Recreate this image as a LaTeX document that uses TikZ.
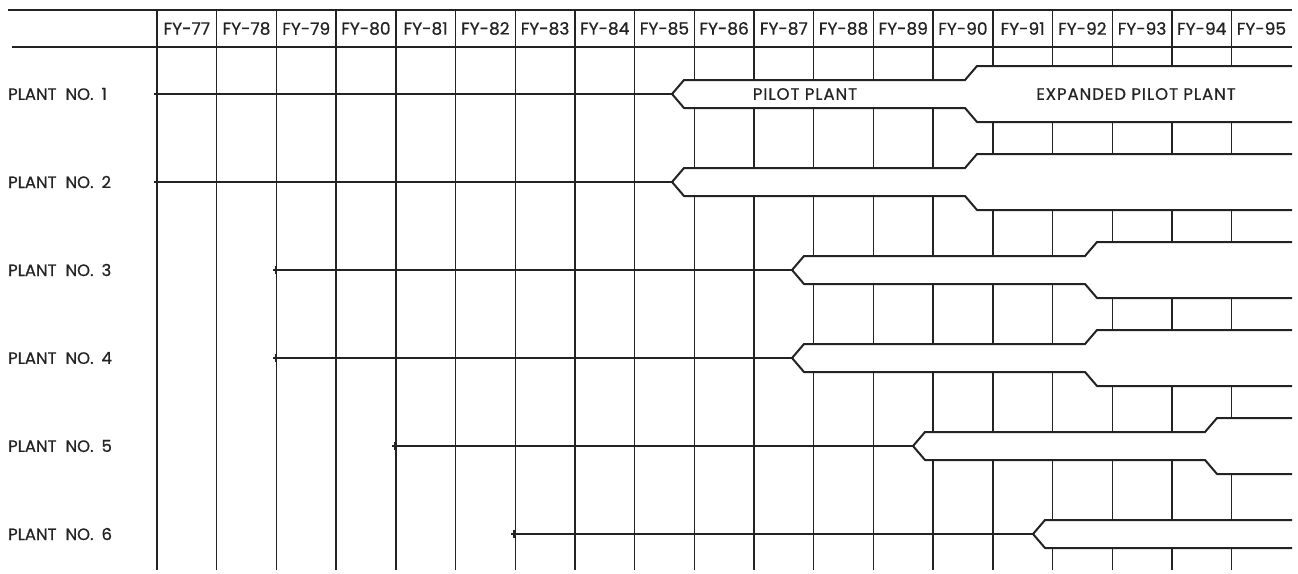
\documentclass[tikz,border=0pt]{standalone}
\usepackage{fontspec}
\setmainfont{Poppins}[FakeBold=0.6]
\definecolor{ink}{RGB}{35,35,35}
\begin{document}
\begin{tikzpicture}[x=1pt,y=-1pt,
  grid/.style={line width=1.4pt, draw=ink},
  edge/.style={line width=2pt, draw=ink, line join=miter},
  lbl/.style={anchor=west, font=\fontsize{16.5}{18}\selectfont, text=ink, inner sep=0pt},
  hdr/.style={font=\fontsize{17}{18}\selectfont, text=ink, inner sep=0pt},
  bandtxt/.style={font=\fontsize{16.5}{18}\selectfont\addfontfeature{LetterSpace=6}, text=ink, inner sep=0pt}]
\useasboundingbox (0,0) rectangle (1298,573);
\fill[white] (0,0) rectangle (1298,573);
% vertical grid
\foreach \i in {0,...,18} {
  \draw[grid] ({157+59.7*\i},10) -- ({157+59.7*\i},570);
}
% header rules
\coordinate (tl) at (8,10);
\coordinate (tr) at (1292,10);
\coordinate (hl) at (12,47);
\coordinate (hr) at (1292,47);
\draw[edge] (tl) -- (tr);
\draw[edge] (hl) -- (hr);
% header labels
\foreach \i [evaluate=\i as \yr using int(77+\i)] in {0,...,18} {
  \node[hdr] (h\i) at ({157+59.7*\i+29.85},28.5) {FY-\yr};
}
% plants with expansion
\foreach \n/\y/\s/\p/\e in {1/94/157/672/965, 2/182/157/672/965, 3/270/276/792/1085, 4/358/276/792/1085, 5/446/395/913/1205} {
  \coordinate (s\n) at (\s,\y);
  \coordinate (p\n) at (\p,\y);
  \fill[white] (p\n) -- ({\p+12},{\y-14}) -- (\e,{\y-14}) -- ({\e+12},{\y-28}) -- (1292,{\y-28})
     -- (1292,{\y+28}) -- ({\e+12},{\y+28}) -- (\e,{\y+14}) -- ({\p+12},{\y+14}) -- cycle;
  \draw[edge] (p\n) -- ({\p+12},{\y-14}) -- (\e,{\y-14}) -- ({\e+12},{\y-28}) -- (1292,{\y-28});
  \draw[edge] (p\n) -- ({\p+12},{\y+14}) -- (\e,{\y+14}) -- ({\e+12},{\y+28}) -- (1292,{\y+28});
  \draw[edge] ({\s-3},\y) -- (p\n);
  \draw[edge] (\s,{\y-4}) -- (\s,{\y+4});
  \node[lbl] (L\n) at (8,\y) {PLANT\hspace{9pt}NO.\hspace{8pt}\n};
}
% plant 6 (pilot only)
\coordinate (s6) at (514,534);
\coordinate (p6) at (1033,534);
\fill[white] (p6) -- (1045,520) -- (1292,520) -- (1292,548) -- (1045,548) -- cycle;
\draw[edge] (p6) -- (1045,520) -- (1292,520);
\draw[edge] (p6) -- (1045,548) -- (1292,548);
\draw[edge] (511,534) -- (p6);
\draw[edge] (514,530) -- (514,538);
\node[lbl] (L6) at (8,534) {PLANT\hspace{9pt}NO.\hspace{8pt}6};
% band labels
\node[bandtxt] (pilot) at (805,94) {PILOT PLANT};
\node[bandtxt] (expanded) at (1136,94) {EXPANDED PILOT PLANT};
\end{tikzpicture}
\end{document}
